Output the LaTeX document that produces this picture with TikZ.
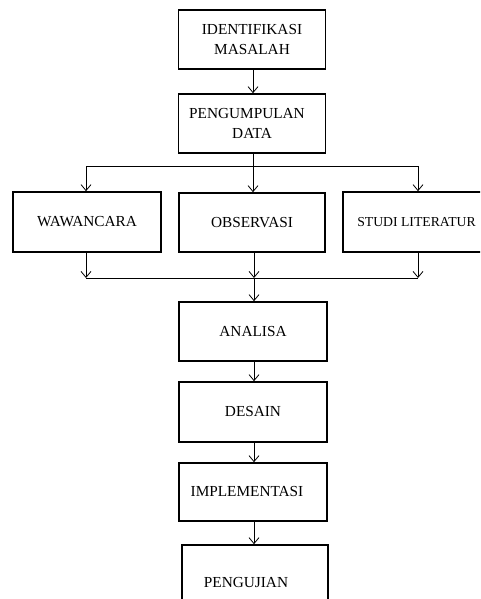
\documentclass[tikz,border=0pt]{standalone}
\usepackage{fontspec}
\setmainfont{Liberation Serif}
\usetikzlibrary{arrows.meta}
\begin{document}
\begin{tikzpicture}[x=1pt,y=-1pt,
  box/.style={draw,line width=1.6pt,rectangle,align=center,inner sep=0pt,
    font=\fontsize{15.3}{20.5}\selectfont},
  conn/.style={line width=0.8pt},
  arr/.style={conn,-{Straight Barb[length=6pt,width=10pt,line width=0.8pt]}}]
\clip (0,0) rectangle (480,599);
\fill[white] (0,0) rectangle (480,599);
\node[box,minimum width=147pt,minimum height=59pt] (b1) at (252,39.5) {IDENTIFIKASI\\MASALAH};
\node[box,minimum width=147pt,minimum height=59pt] (b2) at (252,123.5) {PENGUMPULAN\hspace*{10pt}\\DATA};
\node[box,minimum width=148pt,minimum height=60pt] (w) at (87,222) {WAWANCARA};
\node[box,minimum width=146pt,minimum height=59pt] (o) at (252,222.5) {OBSERVASI};
\node[box,minimum width=147pt,minimum height=60pt,font=\fontsize{13.7}{18}\selectfont] (s) at (416.5,222) {STUDI LITERATUR};
\node[box,minimum width=148pt,minimum height=59pt] (a) at (253,331.5) {ANALISA};
\node[box,minimum width=148pt,minimum height=60pt] (d) at (253,412) {DESAIN};
\node[box,minimum width=148pt,minimum height=58pt] (i) at (253,492) {IMPLEMENTASI\hspace*{12pt}};
\node[box,minimum width=146pt,minimum height=76pt] (p) at (255,583) {PENGUJIAN\hspace*{18pt}};
\coordinate (tl) at (86,166);
\coordinate (tm) at (253,166);
\coordinate (tr) at (418,166);
\coordinate (bl) at (86,278);
\coordinate (bm) at (254,278);
\coordinate (br) at (418,278);
\draw[arr] (b1.south -| tm) -- (b2.north -| tm);
\draw[conn] (tl) -- (tr);
\draw[arr] (b2.south -| tm) -- (o.north -| tm);
\draw[arr] (tl) -- (tl |- w.north);
\draw[arr] (tr) -- (tr |- s.north);
\draw[arr] (w.south -| bl) -- (bl);
\draw[arr] (o.south -| bm) -- (bm);
\draw[arr] (s.south -| br) -- (br);
\draw[conn] (bl) -- (br);
\draw[arr] (bm) -- (a.north -| bm);
\draw[arr] (a.south -| bm) -- (d.north -| bm);
\draw[arr] (d.south -| bm) -- (i.north -| bm);
\draw[arr] (i.south -| bm) -- (p.north -| bm);
\end{tikzpicture}
\end{document}
